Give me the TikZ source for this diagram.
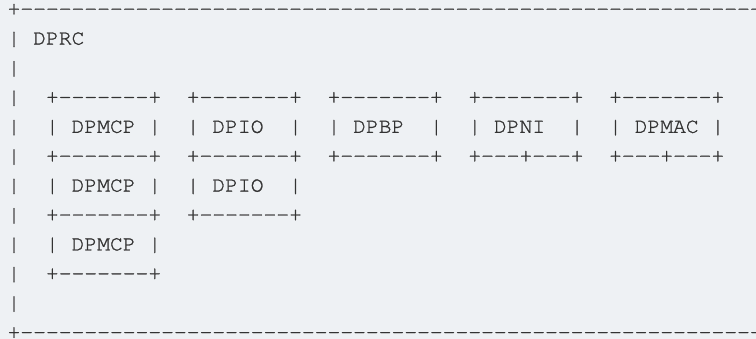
\documentclass[tikz,border=0pt]{standalone}
\usepackage[T1]{fontenc}
\definecolor{bg}{RGB}{238,241,244}
\definecolor{ink}{RGB}{51,51,51}
\newcommand\dashrun[1]{\foreach \k in {1,...,#1}{-{}}}
\newcommand\heavier[1]{\special{pdf:literal direct 2 Tr 0.25 w 0.2 G}#1\special{pdf:literal direct 0 Tr}}
\begin{document}
\begin{tikzpicture}[x=1pt,y=-1pt,
  row/.style={anchor=base west, inner sep=0pt, outer sep=0pt, text=ink,
    font=\fontencoding{T1}\fontfamily{pcr}\fontsize{21.33}{29.4}\selectfont}]
\useasboundingbox (0,0) rectangle (756,339);
\fill[bg] (0,0) rectangle (756,339);
\clip (0,0) rectangle (756,339);
\node[row] (r0)  at (7.6,15.2)  {\heavier{+\dashrun{62}}};
\node[row] (r1)  at (7.6,44.6)  {\heavier{|~DPRC}};
\node[row] (r2)  at (7.6,74.0)  {\heavier{|}};
\node[row] (r3)  at (7.6,103.4) {\heavier{|~~+\dashrun{7}+~~+\dashrun{7}+~~+\dashrun{7}+~~+\dashrun{7}+~~+\dashrun{7}+}};
\node[row] (r4)  at (7.6,132.8) {\heavier{|~~|~DPMCP~|~~|~DPIO~~|~~|~DPBP~~|~~|~DPNI~~|~~|~DPMAC~|}};
\node[row] (r5)  at (7.6,162.2) {\heavier{|~~+\dashrun{7}+~~+\dashrun{7}+~~+\dashrun{7}+~~+\dashrun{3}+\dashrun{3}+~~+\dashrun{3}+\dashrun{3}+}};
\node[row] (r6)  at (7.6,191.6) {\heavier{|~~|~DPMCP~|~~|~DPIO~~|}};
\node[row] (r7)  at (7.6,221.0) {\heavier{|~~+\dashrun{7}+~~+\dashrun{7}+}};
\node[row] (r8)  at (7.6,250.4) {\heavier{|~~|~DPMCP~|}};
\node[row] (r9)  at (7.6,279.8) {\heavier{|~~+\dashrun{7}+}};
\node[row] (r10) at (7.6,309.2) {\heavier{|}};
\node[row] (r11) at (7.6,338.6) {\heavier{+\dashrun{62}}};
\end{tikzpicture}
\end{document}
